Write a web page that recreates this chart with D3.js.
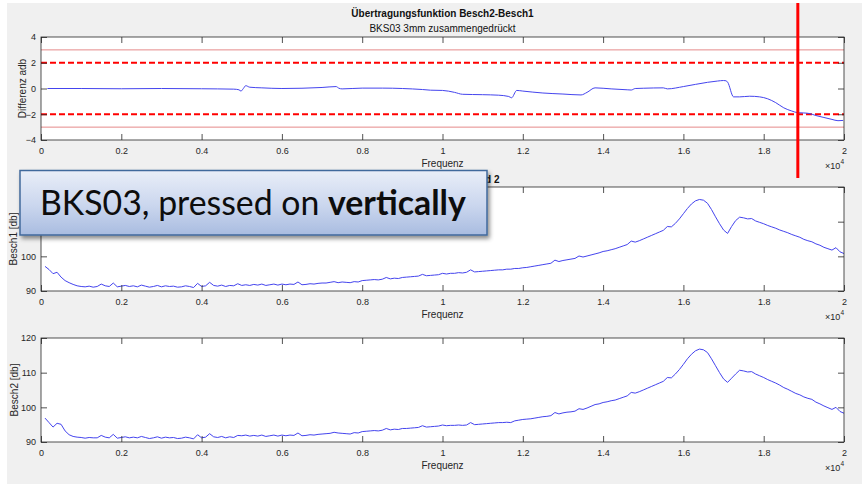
<!DOCTYPE html>
<html><head><meta charset="utf-8">
<script src="https://cdn.jsdelivr.net/npm/d3@7"></script>
<style>
html,body{margin:0;padding:0;background:#fff;}
svg{display:block;}
</style></head><body>
<svg id="fig" width="862" height="484"></svg>
<script>
// ---- frequency axis (Hz) ----
const freqTicks = [0, 2000, 4000, 6000, 8000, 10000, 12000, 14000, 16000, 18000, 20000];
const freqTickLabels = ["0", "0.2", "0.4", "0.6", "0.8", "1", "1.2", "1.4", "1.6", "1.8", "2"];
const diffTicks = [-4, -2, 0, 2, 4];
const levelTicks = [90, 100, 110, 120];

// ---- transfer function Besch2-Besch1 (dB) ----
const diffFreq = [160, 1000, 2000, 3000, 4000, 4800, 4930, 4980, 5040, 5100, 5200, 5500, 6000, 6500, 7000, 7350, 7420, 7500,
  8000, 8500, 9000, 9500, 9700, 10000, 10300, 10500, 11000, 11400, 11650, 11720, 11850, 12000, 12500, 13000, 13450, 13600,
  13800, 14200, 14600, 14700, 14800, 15000, 15500, 15600, 16000, 16300, 16600, 16850, 17000, 17060, 17100, 17250, 17400,
  17650, 17900, 18100, 18300, 18500, 18700, 18850, 19000, 19150, 19300, 19500, 19700, 19850, 19980];
const diffDb = [0.0, 0.0, -0.02, 0.0, -0.02, -0.05, -0.1, -0.2, 0.0, 0.22, 0.1, 0.05, 0.0, 0.02, 0.08, 0.15, 0.02, -0.03,
  0.03, 0.03, 0.0, -0.08, -0.13, -0.15, -0.3, -0.45, -0.48, -0.52, -0.62, -0.72, -0.15, -0.2, -0.35, -0.43, -0.5, -0.3,
  0.05, -0.03, -0.1, -0.12, 0.0, 0.02, 0.05, -0.03, 0.15, 0.32, 0.48, 0.58, 0.62, 0.6, 0.5, -0.65, -0.65,
  -0.6, -0.65, -0.8, -1.1, -1.5, -1.75, -1.88, -1.9, -1.95, -2.1, -2.25, -2.4, -2.5, -2.48];
const limitInner = [-2, 2];   // dashed tolerance band
const limitOuter = [-3, 3];   // thin outer band

// ---- spectra, sampled every 100 Hz from 100 Hz to 20 kHz ----
const specStartHz = 100, specStepHz = 100;
const besch1 = [
  97.1, 96.2, 95.0, 95.4, 94.0, 93.0, 92.4, 91.9, 91.5, 91.3,
  91.2, 91.4, 91.1, 91.3, 92.0, 91.5, 91.3, 92.3, 91.2, 91.4,
  91.6, 91.3, 91.5, 91.2, 91.7, 91.4, 91.1, 91.3, 91.6, 91.2,
  91.5, 91.3, 91.4, 91.1, 91.2, 91.5, 91.3, 91.0, 92.2, 91.3,
  91.5, 92.5, 91.6, 91.4, 91.7, 91.3, 91.6, 91.5, 92.1, 91.6,
  91.8, 91.6, 91.9, 91.7, 92.0, 91.6, 91.8, 92.0, 91.7, 92.0,
  91.8, 92.0, 91.9, 92.6, 91.8, 91.9, 92.1, 92.0, 92.2, 92.3,
  92.3, 92.5, 92.7, 92.4, 92.6, 92.5, 92.4, 92.7, 92.6, 93.0,
  93.1, 93.2, 93.3, 93.2, 93.4, 93.9, 93.5, 93.7, 93.6, 93.9,
  94.0, 94.1, 94.2, 94.3, 94.8, 94.4, 94.5, 94.6, 94.7, 95.1,
  94.9, 95.1, 95.1, 95.3, 95.2, 95.4, 96.1, 95.5, 95.6, 95.7,
  95.8, 95.9, 96.0, 96.1, 96.1, 96.3, 96.3, 96.5, 96.5, 96.7,
  96.8, 97.0, 97.2, 97.4, 97.6, 97.8, 98.0, 98.9, 98.5, 98.8,
  99.0, 99.2, 99.4, 100.1, 99.8, 100.1, 100.4, 100.7, 101.0, 101.4,
  101.6, 101.9, 102.2, 102.6, 103.0, 103.4, 104.4, 104.1, 104.5, 105.0,
  105.5, 106.0, 106.5, 107.0, 107.5, 108.6, 108.5, 109.5, 110.8, 112.3,
  113.8, 115.1, 116.0, 116.4, 116.2, 115.3, 113.5, 111.4, 109.4, 107.6,
  106.6, 108.6, 110.3, 111.3, 111.1, 110.8, 110.9, 110.2, 109.8, 109.4,
  108.9, 108.5, 108.1, 107.6, 107.2, 106.8, 106.3, 105.9, 105.5, 104.9,
  104.5, 104.2, 103.6, 103.2, 102.6, 102.2, 101.8, 102.5, 101.3, 100.8
];
const besch2 = [
  96.9, 95.6, 94.3, 95.4, 95.1, 93.2, 92.1, 91.6, 91.4, 91.3,
  91.1, 91.3, 91.2, 91.2, 91.9, 91.4, 91.2, 92.2, 91.1, 91.3,
  91.5, 91.2, 91.4, 91.2, 91.6, 91.3, 91.0, 91.2, 91.5, 91.1,
  91.4, 91.2, 91.3, 91.0, 91.1, 91.4, 91.2, 90.9, 92.1, 91.2,
  91.4, 92.4, 91.5, 91.3, 91.6, 91.2, 91.5, 91.3, 91.9, 91.8,
  92.0, 91.7, 91.9, 91.7, 92.0, 91.6, 91.8, 92.0, 91.7, 92.0,
  91.8, 92.0, 91.9, 92.6, 91.8, 91.9, 92.1, 92.0, 92.2, 92.3,
  92.4, 92.5, 92.8, 92.6, 92.5, 92.4, 92.3, 92.7, 92.6, 93.0,
  93.1, 93.2, 93.3, 93.2, 93.4, 93.9, 93.5, 93.7, 93.6, 93.9,
  93.9, 94.0, 94.1, 94.2, 94.7, 94.3, 94.4, 94.5, 94.6, 94.9,
  94.7, 94.8, 94.8, 94.9, 94.8, 94.9, 95.6, 95.0, 95.1, 95.2,
  95.3, 95.4, 95.5, 95.6, 95.6, 95.7, 95.6, 96.1, 96.3, 96.5,
  96.6, 96.7, 96.9, 97.1, 97.3, 97.4, 97.6, 98.5, 98.1, 98.4,
  98.6, 98.7, 98.9, 99.6, 99.4, 99.8, 100.3, 100.8, 101.0, 101.4,
  101.6, 101.9, 102.1, 102.5, 102.9, 103.3, 104.3, 104.1, 104.5, 105.0,
  105.5, 106.0, 106.5, 107.0, 107.5, 108.6, 108.5, 109.6, 110.9, 112.4,
  114.0, 115.3, 116.3, 116.8, 116.6, 115.8, 114.0, 112.0, 110.0, 108.2,
  107.2, 108.4, 109.6, 110.7, 110.5, 110.2, 110.3, 109.6, 109.1, 108.6,
  108.0, 107.5, 107.0, 106.4, 105.7, 105.2, 104.6, 104.0, 103.6, 103.0,
  102.6, 102.3, 101.5, 101.0, 100.4, 99.9, 99.4, 100.0, 98.8, 98.3
];
const markerHz = 18850;   // marked frequency (vertical line)

// ---- layout & style ----
const FONT = "'Liberation Sans', Arial, Helvetica, sans-serif";
const AX = "#262626";
const LINE = "#4444ee";
const plotLeft = 41, plotRight = 844;

const svg = d3.select("#fig");
svg.append("rect").attr("x", 7).attr("y", 3).attr("width", 855).attr("height", 481).attr("fill", "#f0f0f0");

const defs = svg.append("defs");
const x = d3.scaleLinear().domain([0, 20000]).range([plotLeft, plotRight]);

function panel(id, top, bottom, yDomain, yTicks, yLabel, title, subtitle) {
  const y = d3.scaleLinear().domain(yDomain).range([bottom, top]);
  const g = svg.append("g").attr("font-family", FONT);
  g.append("rect").attr("x", plotLeft).attr("y", top).attr("width", plotRight - plotLeft)
    .attr("height", bottom - top).attr("fill", "#fff");
  defs.append("clipPath").attr("id", "clip-" + id).append("rect")
    .attr("x", plotLeft).attr("y", top).attr("width", plotRight - plotLeft).attr("height", bottom - top);
  const plot = g.append("g").attr("clip-path", `url(#clip-${id})`);

  const style = a => {
    a.select(".domain").remove();
    a.selectAll(".tick line").attr("stroke", AX).attr("stroke-width", 0.8);
    a.selectAll("text").attr("fill", AX).attr("font-size", 9).attr("font-family", FONT);
  };
  g.append("g").attr("transform", `translate(0,${bottom})`)
    .call(d3.axisBottom(x).tickValues(freqTicks).tickFormat((d, i) => freqTickLabels[i])
      .tickSizeInner(-6).tickSizeOuter(0).tickPadding(7.6)).call(style);
  g.append("g").attr("transform", `translate(0,${top})`)
    .call(d3.axisTop(x).tickValues(freqTicks).tickFormat("").tickSizeInner(-6).tickSizeOuter(0)).call(style);
  g.append("g").attr("transform", `translate(${plotLeft},0)`)
    .call(d3.axisLeft(y).tickValues(yTicks).tickSizeInner(-6).tickSizeOuter(0).tickPadding(5)).call(style);
  g.append("g").attr("transform", `translate(${plotRight},0)`)
    .call(d3.axisRight(y).tickValues(yTicks).tickFormat("").tickSizeInner(-6).tickSizeOuter(0)).call(style);

  g.append("rect").attr("x", plotLeft).attr("y", top).attr("width", plotRight - plotLeft)
    .attr("height", bottom - top).attr("fill", "none").attr("stroke", AX).attr("stroke-width", 0.8);

  g.append("text").attr("x", 442.5).attr("y", bottom + 26.5).attr("text-anchor", "middle")
    .attr("font-size", 10).attr("fill", AX).text("Frequenz");
  const ex = g.append("text").attr("x", plotRight).attr("y", bottom + 28.5).attr("text-anchor", "end")
    .attr("fill", AX).attr("font-size", 9);
  ex.append("tspan").text("\u00d710");
  ex.append("tspan").attr("font-size", 6.5).attr("dy", -4.5).text("4");

  g.append("text").attr("transform", `translate(${yLabel.x},${(top + bottom) / 2}) rotate(-90)`)
    .attr("text-anchor", "middle").attr("font-size", 10).attr("fill", AX).text(yLabel.text);

  if (title) g.append("text").attr("x", 442.5).attr("y", title.y).attr("text-anchor", "middle")
    .attr("font-size", 10).attr("font-weight", "bold").attr("fill", "#111").text(title.text);
  if (subtitle) g.append("text").attr("x", 442.5).attr("y", subtitle.y).attr("text-anchor", "middle")
    .attr("font-size", 10).attr("fill", "#111").text(subtitle.text);

  return { y, plot };
}

// ---- top: transfer function ----
const p1 = panel("diff", 37, 140, [-4, 4], diffTicks, { text: "Differenz adb", x: 25.5 },
  { text: "\u00dcbertragungsfunktion Besch2-Besch1", y: 17 }, { text: "BKS03 3mm zusammengedr\u00fcckt", y: 32 });
limitOuter.forEach(v => p1.plot.append("line").attr("x1", plotLeft).attr("x2", plotRight)
  .attr("y1", p1.y(v)).attr("y2", p1.y(v)).attr("stroke", "#e58a8a").attr("stroke-width", 1));
limitInner.forEach(v => p1.plot.append("line").attr("x1", plotLeft).attr("x2", plotRight)
  .attr("y1", p1.y(v)).attr("y2", p1.y(v)).attr("stroke", "#ff0000").attr("stroke-width", 2)
  .attr("stroke-dasharray", "6,3"));
const diffPts = diffFreq.map((f, i) => [f, diffDb[i]]);
p1.plot.append("path").datum(diffPts).attr("fill", "none").attr("stroke", LINE).attr("stroke-width", 1)
  .attr("d", d3.line().x(d => x(d[0])).y(d => p1.y(d[1])).curve(d3.curveMonotoneX));

// ---- middle / bottom: spectra ----
const specLine = (ys) => d3.line().x((d, i) => x(specStartHz + i * specStepHz)).y(d => ys(d));
const p2 = panel("b1", 187, 291, [90, 120], levelTicks, { text: "Besch1 [db]", x: 16.8 },
  { text: "Spektrum Besch1 und 2", y: 183 }, null);
p2.plot.append("path").datum(besch1).attr("fill", "none").attr("stroke", LINE).attr("stroke-width", 1)
  .attr("d", specLine(p2.y));

const p3 = panel("b2", 338, 442, [90, 120], levelTicks, { text: "Besch2 [db]", x: 17.5 }, null, null);
p3.plot.append("path").datum(besch2).attr("fill", "none").attr("stroke", LINE).attr("stroke-width", 1)
  .attr("d", specLine(p3.y));

// ---- marker line at the selected frequency ----
svg.append("line").attr("x1", x(markerHz)).attr("x2", x(markerHz)).attr("y1", 3).attr("y2", 178)
  .attr("stroke", "#ff0000").attr("stroke-width", 3);

// ---- annotation box ----
const grad = defs.append("linearGradient").attr("id", "boxGrad").attr("x1", 0).attr("y1", 0).attr("x2", 0).attr("y2", 1);
grad.append("stop").attr("offset", "0%").attr("stop-color", "#e9eef8");
grad.append("stop").attr("offset", "55%").attr("stop-color", "#cad6ee");
grad.append("stop").attr("offset", "100%").attr("stop-color", "#a9bce0");
const shadow = defs.append("filter").attr("id", "boxShadow").attr("x", "-10%").attr("y", "-30%")
  .attr("width", "120%").attr("height", "170%");
shadow.append("feDropShadow").attr("dx", 2).attr("dy", 3).attr("stdDeviation", 2.2)
  .attr("flood-color", "#000").attr("flood-opacity", 0.45);

svg.append("rect").attr("x", 20).attr("y", 170.5).attr("width", 467).attr("height", 64.5)
  .attr("fill", "url(#boxGrad)").attr("stroke", "#41699c").attr("stroke-width", 1.5)
  .attr("filter", "url(#boxShadow)");
const note = svg.append("text").attr("x", 40).attr("y", 215).attr("font-family", "Lato, 'Open Sans', sans-serif")
  .attr("font-size", 34).attr("fill", "#0d0d0d");
note.append("tspan").text("BKS03, pressed on ");
note.append("tspan").attr("font-weight", "bold").text("vertically");
const w = note.node().getComputedTextLength();
note.attr("font-size", 34 * 426 / w);
</script>
</body></html>
